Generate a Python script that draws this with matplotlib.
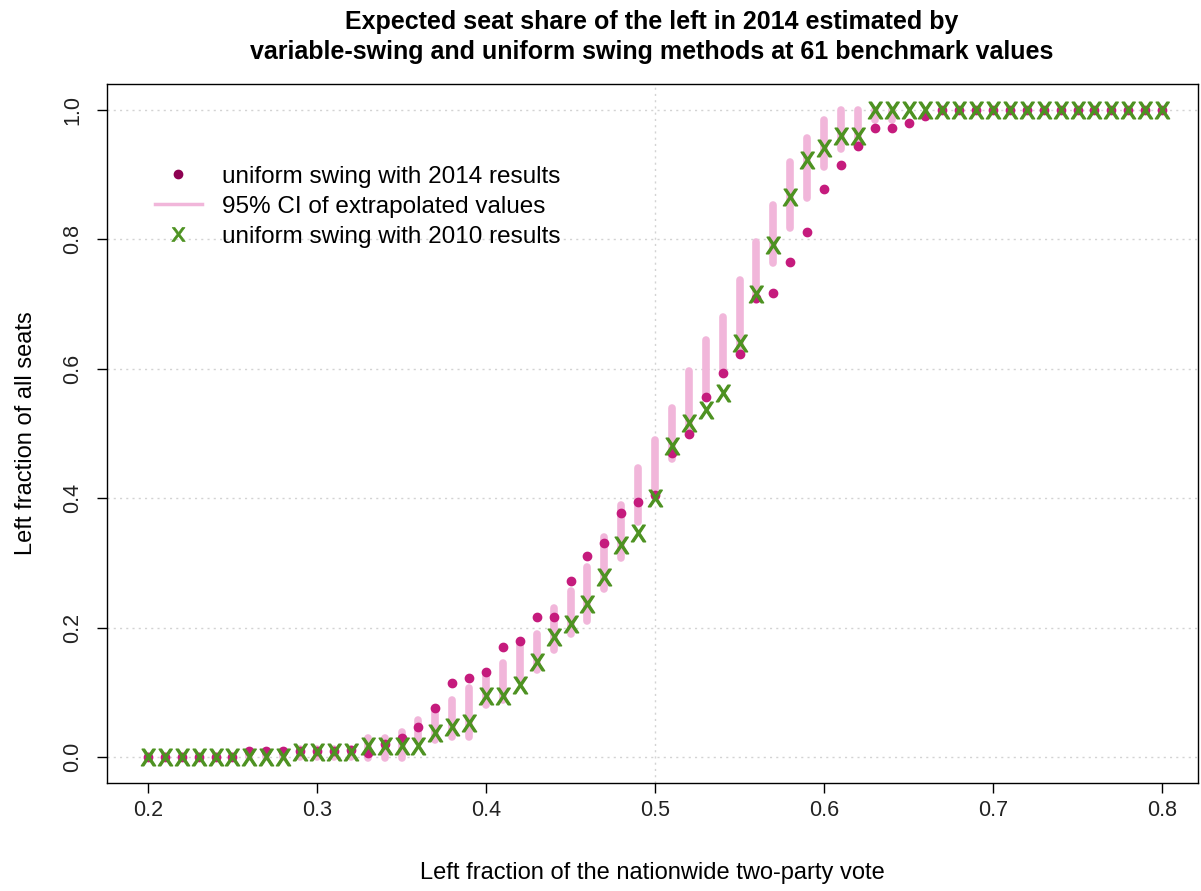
import matplotlib
matplotlib.use("Agg")
import matplotlib.pyplot as plt
from matplotlib.lines import Line2D
import numpy as np

plt.rcParams['font.family'] = ['Liberation Sans', 'DejaVu Sans']
plt.rcParams['mathtext.fontset'] = 'dejavusans'

# benchmark values of the nationwide two-party vote (61 of them)
vote = np.round(np.arange(0.20, 0.8001, 0.01), 2)

# uniform swing with 2014 results
us2014 = [0, 0, 0, 0, 0, 0, 0.009, 0.009, 0.009, 0.009,
          0.009, 0.009, 0.011, 0.006, 0.02, 0.029, 0.047, 0.075, 0.114, 0.122,
          0.131, 0.17, 0.179, 0.216, 0.216, 0.272, 0.31, 0.33, 0.377, 0.394,
          0.405, 0.47, 0.50, 0.556, 0.593, 0.623, 0.71, 0.717, 0.765, 0.811,
          0.878, 0.915, 0.944, 0.972, 0.972, 0.98, 0.99, 1, 1, 1,
          1, 1, 1, 1, 1, 1, 1, 1, 1, 1, 1]

# uniform swing with 2010 results
us2010 = [0, 0, 0, 0, 0, 0, 0, 0, 0, 0.008,
          0.008, 0.008, 0.008, 0.017, 0.017, 0.017, 0.017, 0.037, 0.046, 0.053,
          0.094, 0.094, 0.111, 0.147, 0.185, 0.205, 0.236, 0.278, 0.328, 0.346,
          0.40, 0.48, 0.516, 0.536, 0.563, 0.64, 0.716, 0.791, 0.866, 0.923,
          0.941, 0.96, 0.96, 1, 1, 1, 1, 1, 1, 1,
          1, 1, 1, 1, 1, 1, 1, 1, 1, 1, 1]

# 95% CI of the extrapolated (variable-swing) values
ci_low = [0, 0, 0, 0, 0, 0, 0, 0, 0, 0,
          0, 0, 0, -0.002, -0.002, -0.002, 0.026, 0.026, 0.031, 0.031,
          0.08, 0.088, 0.12, 0.135, 0.165, 0.19, 0.21, 0.26, 0.308, 0.363,
          0.405, 0.46, 0.51, 0.556, 0.593, 0.63, 0.706, 0.763, 0.818, 0.864,
          0.912, 0.94, 0.953, 0.985, 0.985, 1, 1, 1, 1, 1,
          1, 1, 1, 1, 1, 1, 1, 1, 1, 1, 1]
ci_high = [0.002, 0.002, 0.002, 0.002, 0.002, 0.002, 0.008, 0.008, 0.008, 0.012,
           0.012, 0.012, 0.012, 0.03, 0.03, 0.039, 0.057, 0.07, 0.088, 0.107,
           0.125, 0.145, 0.173, 0.19, 0.23, 0.257, 0.294, 0.34, 0.39, 0.447,
           0.49, 0.54, 0.597, 0.645, 0.68, 0.737, 0.796, 0.853, 0.92, 0.957,
           0.985, 1, 1, 1, 1, 1, 1, 1, 1, 1,
           1, 1, 1, 1, 1, 1, 1, 1, 1, 1, 1]

col_dot = '#C51B7D'
col_dot_leg = '#8E0152'
col_ci = '#F1B6DA'
col_x = '#4D9221'

fig = plt.figure(figsize=(12.01, 8.91), dpi=100)
ax = fig.add_axes([107/1201, 1 - 783/891, (1198 - 107)/1201, (783 - 84)/891])

ax.set_xlim(0.17574, 0.8213)
ax.set_ylim(-0.0402, 1.0402)

# grid
for yv in np.arange(0, 1.01, 0.2):
    ax.axhline(yv, color='#D3D3D3', lw=1, ls=(0, (1.5, 3)), zorder=0)
ax.axvline(0.5, color='#D3D3D3', lw=1, ls=(0, (1.5, 3)), zorder=0)

ax.vlines(vote, ci_low, ci_high, color=col_ci, lw=5.5, capstyle='round', zorder=2)
ax.plot(vote, us2014, 'o', color=col_dot, ms=6, mec=col_dot, zorder=3)
ax.plot(vote, us2010, ls='', marker=r'$\mathsf{X}$', color=col_x, ms=12, mec=col_x,
        mew=1.0, zorder=4)

ax.set_xticks(np.arange(0.2, 0.81, 0.1))
ax.set_xticklabels(['0.2', '0.3', '0.4', '0.5', '0.6', '0.7', '0.8'])
ax.set_yticks(np.arange(0, 1.01, 0.2))
ax.set_yticklabels(['0.0', '0.2', '0.4', '0.6', '0.8', '1.0'], rotation=90, va='center')
ax.tick_params(axis='both', labelsize=15.5, length=7, width=1, colors='black', labelcolor='#222222')
ax.tick_params(axis='x', pad=5)
ax.tick_params(axis='y', pad=10)
for s in ax.spines.values():
    s.set_linewidth(1)

ax.set_xlabel('Left fraction of the nationwide two-party vote', fontsize=17, labelpad=30)
ax.set_ylabel('Left fraction of all seats', fontsize=17, labelpad=18)
fig.text(652/1201, 1 - 37/891,
         'Expected seat share of the left in 2014 estimated by\n'
         'variable-swing and uniform swing methods at 61 benchmark values',
         ha='center', va='center', fontsize=18, fontweight='bold', linespacing=1.3)

handles = [Line2D([], [], ls='', marker='o', color=col_dot_leg, ms=6),
           Line2D([], [], color=col_ci, lw=2.5),
           Line2D([], [], ls='', marker=r'$\mathsf{x}$', color=col_x, ms=10, mew=0.5)]
labels = ['uniform swing with 2014 results', '95% CI of extrapolated values',
          'uniform swing with 2010 results']
ax.legend(handles, labels, loc='upper left', bbox_to_anchor=(38/1091, 1 - 72/699),
          frameon=False, fontsize=17.5, handlelength=1.95, handletextpad=0.8,
          labelspacing=0.33, borderaxespad=0)

fig.savefig('out.png', dpi=100)
